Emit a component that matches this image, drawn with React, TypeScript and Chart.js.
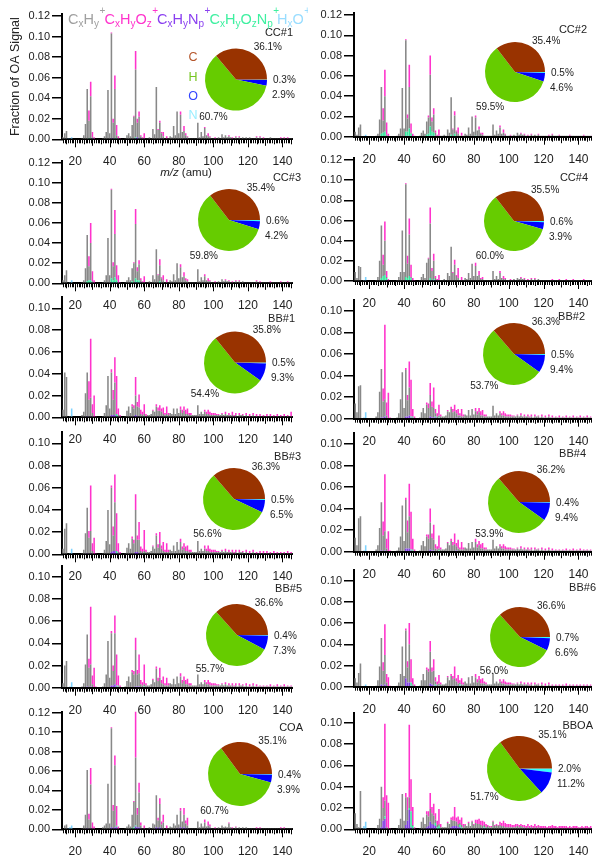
import React, { useEffect, useRef } from 'react';
import { Chart, registerables } from 'chart.js';
Chart.register(...registerables);

const FONT = 'Arial, "Liberation Sans", Helvetica, sans-serif';
const TEXT = '#222';
Chart.defaults.font.family = FONT;
Chart.defaults.color = TEXT;

// ---------- tick labels ----------
const X_TICKS = [20, 40, 60, 80, 100, 120, 140];
const Y_TICKS_12 = [0, 0.02, 0.04, 0.06, 0.08, 0.1, 0.12];
const Y_TICKS_10 = [0, 0.02, 0.04, 0.06, 0.08, 0.1];

// ---------- ion families (stack order bottom -> top) ----------
const FAMILY_KEYS = ['cxhynp', 'cxhyoznp', 'hxo', 'cxhy', 'cxhyoz'];
const FAMILY_COLORS = ['#8040e0', '#36e69c', '#80d4ff', '#888888', '#ff33cc'];

// elemental pie: values stored as [C, H, O, N] (%)
const PIE_ORDER = ['N', 'O', 'H', 'C'];
const PIE_COLORS = ['#33ffff', '#0000ff', '#66cc00', '#993300'];

// ---------- spectra (fraction of OA signal, in 1/1000) ----------
// dense rows: row k holds m/z 10+10k .. 19+10k
const CC1_CXHY = [
  [0, 0, 4, 2, 6, 8, 0, 0, 0, 0],
  [0, 0, 0, 0, 1, 4, 15, 49, 17, 41],
  [1, 0, 0, 0, 0, 0, 1, 3, 7, 48],
  [6, 102, 15, 48, 3, 1, 0, 0, 0, 1],
  [4, 6, 3, 14, 22, 66, 14, 21, 2, 1],
  [1, 1, 1, 2, 1, 10, 5, 51, 9, 16],
  [5, 3, 1, 1, 1, 3, 2, 13, 4, 27],
  [6, 24, 7, 8, 3, 2, 1, 1, 1, 1],
  [1, 16, 2, 7, 3, 11, 4, 3, 2, 1],
  [1, 1, 1, 2, 1, 5, 2, 4, 2, 3],
  [2, 1, 1, 2, 1, 2, 1, 2, 1, 2],
  [1, 2, 1, 1, 1, 2, 1, 2, 1, 1],
  [1, 1, 1, 2, 1, 1, 1, 1, 1, 1],
  [1, 1, 1, 1, 1, 1, 1, 1, 1, 1],
];
const CC1_CXHYOZ = [
  [0, 0, 0, 0, 0, 0, 0, 0, 0, 0],
  [0, 0, 0, 0, 0, 0, 0, 0, 10, 14],
  [5, 2, 0, 0, 0, 0, 0, 0, 0, 0],
  [0, 1, 4, 13, 10, 2, 1, 0, 0, 0],
  [0, 0, 0, 0, 1, 18, 4, 5, 1, 1],
  [5, 0, 0, 0, 0, 0, 0, 0, 1, 2],
  [1, 4, 0, 2, 0, 0, 0, 0, 0, 0],
  [0, 3, 0, 5, 2, 1, 0, 0, 0, 0],
  [0, 0, 0, 0, 0, 1, 0, 3, 1, 0],
  [0, 1, 0, 0, 0, 0, 0, 0, 0, 1],
  [0, 1, 0, 1, 0, 1, 0, 0, 0, 0],
  [0, 0, 0, 0, 0, 1, 0, 1, 0, 1],
  [0, 0, 0, 0, 0, 0, 0, 0, 0, 1],
  [0, 1, 0, 1, 0, 0, 0, 1, 0, 0],
];
const CC1_CXHYNP = { 30: 1, 41: 1, 42: 1, 55: 1, 56: 2, 58: 1, 70: 1, 84: 1 };
const CC1_CXHYOZNP = { 28: 1, 29: 1, 43: 1, 44: 1, 55: 1, 57: 1 };
const CC1_HXO = { 16: 1, 17: 1, 18: 2 };
const CC1_CHON = [36.1, 60.7, 2.9, 0.3];

const CC2_CXHY = [
  [0, 0, 5, 2, 9, 12, 0, 0, 0, 0],
  [0, 0, 0, 0, 1, 3, 17, 46, 12, 35],
  [1, 0, 0, 0, 0, 0, 1, 3, 8, 48],
  [8, 90, 13, 41, 1, 0, 0, 0, 0, 1],
  [4, 6, 3, 13, 16, 51, 10, 18, 3, 1],
  [1, 1, 1, 2, 1, 7, 4, 37, 7, 18],
  [5, 3, 1, 1, 1, 3, 2, 9, 3, 20],
  [5, 18, 6, 7, 3, 2, 1, 1, 1, 1],
  [1, 12, 2, 6, 3, 9, 3, 3, 2, 1],
  [1, 1, 1, 2, 1, 4, 2, 3, 2, 2],
  [1, 1, 1, 2, 1, 2, 1, 2, 1, 1],
  [1, 1, 1, 1, 1, 2, 1, 1, 1, 1],
  [1, 1, 1, 1, 1, 1, 1, 1, 1, 1],
  [1, 1, 1, 1, 1, 1, 1, 1, 1, 1],
];
const CC2_CXHYOZ = [
  [0, 0, 0, 0, 0, 0, 0, 0, 0, 0],
  [0, 0, 0, 0, 0, 0, 0, 0, 12, 26],
  [12, 3, 0, 0, 0, 0, 0, 0, 0, 0],
  [0, 1, 4, 22, 9, 3, 1, 0, 0, 0],
  [0, 0, 0, 0, 2, 19, 4, 6, 2, 1],
  [6, 0, 0, 0, 0, 0, 0, 0, 1, 4],
  [1, 6, 0, 3, 0, 0, 0, 0, 0, 0],
  [0, 2, 0, 3, 1, 2, 0, 0, 0, 0],
  [0, 0, 0, 0, 0, 2, 0, 3, 1, 0],
  [0, 1, 0, 0, 0, 0, 0, 1, 0, 1],
  [0, 1, 0, 1, 0, 0, 0, 1, 0, 0],
  [0, 0, 0, 1, 0, 1, 0, 0, 0, 1],
  [0, 0, 0, 0, 0, 1, 0, 0, 0, 0],
  [0, 0, 0, 1, 0, 0, 0, 0, 1, 0],
];
const CC2_CXHYNP = { 30: 1, 42: 1, 55: 1, 56: 1, 58: 1, 97: 1 };
const CC2_CXHYOZNP = { 27: 3, 28: 4, 29: 5, 41: 5, 42: 4, 43: 8, 44: 3, 53: 2, 54: 3, 55: 9, 56: 4, 57: 4, 67: 2, 69: 3, 81: 1 };
const CC2_HXO = { 17: 1, 18: 2 };
const CC2_CHON = [35.4, 59.5, 4.6, 0.5];

const CC3_CXHY = [
  [0, 0, 5, 3, 8, 13, 0, 0, 0, 0],
  [0, 0, 0, 0, 1, 3, 15, 46, 14, 37],
  [1, 0, 0, 0, 0, 0, 1, 3, 8, 45],
  [8, 88, 14, 43, 1, 0, 0, 0, 0, 1],
  [3, 6, 3, 13, 20, 54, 9, 16, 2, 1],
  [1, 1, 1, 2, 1, 8, 4, 34, 8, 16],
  [5, 3, 1, 1, 1, 3, 2, 9, 3, 20],
  [5, 16, 6, 7, 3, 2, 1, 1, 1, 1],
  [1, 14, 2, 6, 3, 7, 3, 2, 2, 1],
  [1, 1, 1, 2, 1, 4, 2, 3, 2, 2],
  [1, 1, 1, 2, 1, 2, 1, 2, 1, 1],
  [1, 1, 1, 1, 1, 2, 1, 1, 1, 1],
  [1, 1, 1, 1, 1, 1, 1, 1, 1, 1],
  [1, 1, 1, 1, 1, 1, 1, 1, 1, 1],
];
const CC3_CXHYOZ = [
  [0, 0, 0, 0, 0, 0, 0, 0, 0, 0],
  [0, 0, 0, 0, 0, 0, 0, 0, 10, 20],
  [10, 3, 0, 0, 0, 0, 0, 0, 0, 0],
  [0, 1, 4, 24, 14, 8, 1, 0, 0, 0],
  [0, 0, 0, 0, 1, 15, 4, 4, 2, 1],
  [6, 0, 0, 0, 0, 0, 0, 0, 1, 6],
  [1, 5, 0, 3, 0, 0, 0, 0, 0, 0],
  [0, 3, 0, 4, 2, 2, 0, 0, 0, 0],
  [0, 0, 0, 0, 0, 2, 0, 3, 1, 0],
  [0, 1, 0, 0, 0, 0, 0, 1, 0, 1],
  [0, 1, 0, 1, 0, 1, 0, 0, 0, 0],
  [0, 0, 0, 0, 0, 1, 0, 1, 0, 0],
  [0, 0, 0, 1, 0, 0, 0, 0, 0, 1],
  [0, 0, 0, 1, 0, 0, 0, 1, 0, 0],
];
const CC3_CXHYNP = { 30: 1, 41: 1, 43: 1, 55: 1, 56: 1, 58: 1 };
const CC3_CXHYOZNP = { 27: 2, 28: 3, 29: 3, 41: 4, 42: 3, 43: 5, 44: 3, 53: 2, 55: 4, 56: 2, 57: 3, 69: 2 };
const CC3_HXO = { 17: 1, 18: 3 };
const CC3_CHON = [35.4, 59.8, 4.2, 0.6];

const CC4_CXHY = [
  [0, 0, 9, 3, 15, 14, 0, 0, 0, 0],
  [0, 0, 0, 0, 1, 4, 20, 52, 11, 34],
  [1, 0, 0, 0, 0, 0, 1, 4, 9, 50],
  [9, 92, 14, 41, 1, 0, 0, 0, 0, 1],
  [4, 7, 3, 18, 22, 54, 9, 18, 2, 1],
  [1, 1, 1, 2, 1, 8, 5, 34, 8, 16],
  [5, 3, 1, 1, 1, 3, 2, 8, 3, 17],
  [5, 15, 5, 6, 2, 2, 1, 1, 1, 1],
  [1, 10, 2, 5, 2, 8, 3, 2, 2, 1],
  [1, 1, 1, 2, 1, 3, 2, 3, 2, 2],
  [1, 1, 1, 2, 1, 2, 1, 2, 1, 1],
  [1, 1, 1, 1, 1, 1, 1, 1, 1, 1],
  [1, 1, 1, 1, 1, 1, 1, 1, 1, 1],
  [1, 1, 1, 1, 1, 1, 1, 1, 1, 1],
];
const CC4_CXHYOZ = [
  [0, 0, 0, 0, 0, 0, 0, 0, 0, 0],
  [0, 0, 0, 0, 0, 0, 0, 0, 10, 19],
  [6, 2, 0, 0, 0, 0, 0, 0, 0, 0],
  [0, 1, 8, 16, 12, 3, 1, 0, 0, 0],
  [0, 0, 0, 0, 1, 16, 3, 7, 2, 1],
  [5, 0, 0, 0, 0, 0, 0, 0, 1, 5],
  [1, 10, 0, 3, 0, 0, 0, 0, 0, 0],
  [0, 3, 0, 4, 1, 2, 0, 0, 0, 0],
  [0, 0, 0, 0, 0, 2, 0, 3, 1, 0],
  [0, 1, 0, 0, 0, 0, 0, 1, 0, 1],
  [0, 1, 0, 1, 0, 1, 0, 0, 0, 0],
  [0, 0, 0, 0, 0, 1, 0, 0, 0, 1],
  [0, 0, 0, 1, 0, 0, 0, 1, 0, 0],
  [0, 0, 0, 1, 0, 0, 0, 0, 0, 0],
];
const CC4_CXHYNP = { 30: 1, 41: 1, 43: 1, 56: 1, 58: 1 };
const CC4_CXHYOZNP = { 27: 3, 28: 5, 29: 6, 30: 2, 41: 3, 42: 3, 43: 4, 44: 3, 55: 3, 57: 2 };
const CC4_HXO = { 17: 1, 18: 4 };
const CC4_CHON = [35.5, 60.0, 3.9, 0.6];

const BB1_CXHY = [
  [0, 0, 18, 7, 41, 37, 0, 0, 0, 0],
  [0, 0, 0, 0, 2, 5, 22, 40, 16, 17],
  [4, 0, 0, 0, 0, 0, 1, 4, 11, 38],
  [8, 39, 14, 30, 0, 1, 0, 0, 0, 1],
  [6, 10, 4, 10, 7, 18, 9, 8, 3, 2],
  [2, 1, 2, 2, 3, 6, 5, 10, 5, 6],
  [4, 3, 2, 2, 2, 4, 3, 8, 3, 8],
  [4, 7, 4, 6, 3, 3, 2, 2, 2, 2],
  [2, 11, 3, 5, 3, 5, 3, 3, 2, 2],
  [2, 2, 2, 2, 2, 3, 2, 3, 2, 2],
  [2, 2, 1, 2, 1, 2, 2, 2, 1, 2],
  [1, 1, 1, 2, 1, 1, 1, 1, 1, 1],
  [1, 1, 1, 1, 1, 1, 1, 1, 1, 1],
  [1, 1, 1, 1, 1, 1, 1, 1, 1, 1],
];
const BB1_CXHYOZ = [
  [0, 0, 0, 0, 0, 0, 0, 0, 0, 0],
  [0, 0, 0, 0, 0, 0, 0, 0, 17, 54],
  [8, 20, 1, 0, 0, 0, 0, 0, 0, 0],
  [0, 3, 9, 23, 35, 6, 2, 0, 0, 0],
  [0, 0, 0, 2, 3, 17, 4, 12, 4, 3],
  [9, 2, 0, 0, 0, 1, 0, 2, 3, 5],
  [3, 6, 2, 7, 2, 0, 0, 0, 0, 0],
  [0, 3, 3, 4, 4, 5, 2, 2, 0, 0],
  [0, 0, 0, 0, 0, 2, 2, 4, 3, 2],
  [2, 2, 1, 1, 0, 1, 0, 2, 0, 2],
  [0, 3, 1, 2, 0, 2, 0, 1, 0, 2],
  [0, 2, 0, 2, 0, 2, 0, 2, 0, 1],
  [0, 2, 0, 2, 0, 1, 0, 2, 0, 1],
  [0, 2, 0, 1, 0, 4, 0, 1, 0, 1],
];
const BB1_CXHYNP = { 27: 1, 29: 1, 41: 2, 42: 2, 43: 2, 44: 1, 54: 1, 55: 2, 56: 1, 57: 1, 68: 1, 70: 1 };
const BB1_CXHYOZNP = { 44: 2, 45: 1, 60: 1, 73: 1 };
const BB1_HXO = { 17: 1, 18: 8 };
const BB1_CHON = [35.8, 54.4, 9.3, 0.5];

const BB2_CXHY = [
  [0, 0, 14, 6, 30, 31, 0, 0, 0, 0],
  [0, 0, 0, 0, 2, 6, 25, 45, 15, 16],
  [3, 0, 0, 0, 0, 0, 1, 5, 18, 43],
  [10, 43, 15, 26, 0, 1, 0, 0, 0, 1],
  [6, 10, 5, 13, 10, 20, 10, 9, 3, 2],
  [2, 2, 2, 2, 3, 7, 6, 9, 6, 7],
  [4, 3, 2, 2, 2, 4, 3, 8, 3, 9],
  [4, 7, 4, 6, 3, 3, 2, 2, 2, 2],
  [2, 12, 3, 5, 3, 5, 3, 3, 2, 2],
  [2, 2, 2, 2, 2, 3, 2, 3, 2, 2],
  [2, 2, 1, 2, 1, 2, 2, 2, 1, 2],
  [1, 1, 1, 2, 1, 1, 1, 1, 1, 1],
  [1, 1, 1, 1, 1, 1, 1, 1, 1, 1],
  [1, 1, 1, 1, 1, 1, 1, 1, 1, 1],
];
const BB2_CXHYOZ = [
  [0, 0, 0, 0, 0, 0, 0, 0, 0, 0],
  [0, 0, 0, 0, 0, 0, 0, 0, 12, 69],
  [12, 24, 1, 0, 0, 0, 0, 0, 0, 0],
  [0, 2, 5, 24, 34, 7, 2, 0, 0, 0],
  [0, 0, 0, 2, 4, 11, 5, 19, 4, 3],
  [10, 2, 0, 0, 0, 1, 0, 2, 3, 6],
  [3, 6, 2, 7, 2, 0, 0, 0, 0, 0],
  [0, 3, 3, 4, 4, 5, 2, 2, 0, 0],
  [0, 0, 0, 0, 0, 2, 2, 4, 3, 2],
  [2, 2, 1, 1, 0, 1, 0, 2, 0, 2],
  [0, 2, 1, 2, 0, 2, 0, 1, 0, 2],
  [0, 2, 0, 2, 0, 2, 0, 1, 0, 2],
  [0, 1, 0, 2, 0, 1, 0, 2, 0, 1],
  [0, 2, 0, 1, 0, 2, 0, 1, 0, 2],
];
const BB2_CXHYNP = { 27: 1, 28: 1, 29: 2, 41: 2, 42: 2, 43: 3, 44: 1, 55: 2, 56: 1, 57: 1, 58: 1, 70: 1, 72: 1 };
const BB2_CXHYOZNP = { 44: 1, 45: 1, 58: 1, 60: 1 };
const BB2_HXO = { 17: 1, 18: 6 };
const BB2_CHON = [36.3, 53.7, 9.4, 0.5];

const BB3_CXHY = [
  [0, 0, 16, 5, 23, 28, 0, 0, 0, 0],
  [0, 0, 0, 0, 1, 4, 19, 41, 15, 20],
  [3, 0, 0, 0, 0, 0, 1, 4, 12, 40],
  [9, 58, 14, 44, 0, 1, 0, 0, 0, 1],
  [6, 10, 5, 14, 10, 38, 11, 12, 3, 2],
  [2, 2, 2, 2, 3, 7, 5, 17, 6, 10],
  [4, 3, 2, 2, 2, 4, 3, 8, 3, 11],
  [4, 11, 4, 6, 3, 3, 2, 2, 2, 2],
  [2, 12, 3, 5, 3, 5, 3, 3, 2, 2],
  [2, 2, 2, 2, 2, 3, 2, 3, 2, 2],
  [2, 2, 1, 2, 1, 2, 2, 2, 1, 2],
  [1, 1, 1, 2, 1, 1, 1, 1, 1, 1],
  [1, 1, 1, 1, 1, 1, 1, 1, 1, 1],
  [1, 1, 1, 1, 1, 1, 1, 1, 1, 1],
];
const BB3_CXHYOZ = [
  [0, 0, 0, 0, 0, 0, 0, 0, 0, 0],
  [0, 0, 0, 0, 0, 0, 0, 0, 6, 41],
  [7, 15, 1, 0, 0, 0, 0, 0, 0, 0],
  [0, 2, 8, 25, 34, 8, 2, 0, 0, 0],
  [0, 0, 0, 2, 3, 14, 4, 16, 4, 3],
  [19, 2, 0, 0, 0, 1, 0, 2, 3, 10],
  [3, 8, 2, 8, 2, 0, 0, 0, 0, 0],
  [0, 3, 3, 4, 4, 5, 2, 2, 0, 0],
  [0, 0, 0, 0, 0, 3, 2, 5, 3, 2],
  [2, 2, 1, 1, 0, 1, 0, 2, 0, 2],
  [0, 2, 1, 2, 0, 2, 0, 1, 0, 2],
  [0, 2, 0, 2, 0, 1, 0, 2, 0, 2],
  [0, 2, 0, 1, 0, 2, 0, 1, 0, 1],
  [0, 1, 0, 2, 0, 1, 0, 1, 0, 1],
];
const BB3_CXHYNP = { 27: 1, 29: 1, 41: 2, 42: 3, 43: 3, 44: 1, 55: 2, 56: 2, 57: 1, 70: 1 };
const BB3_CXHYOZNP = { 44: 2, 45: 1, 60: 1 };
const BB3_HXO = { 17: 1, 18: 5 };
const BB3_CHON = [36.3, 56.6, 6.5, 0.5];

const BB4_CXHY = [
  [0, 0, 13, 6, 31, 33, 0, 0, 0, 0],
  [0, 0, 0, 0, 2, 6, 22, 45, 15, 18],
  [3, 0, 0, 0, 0, 0, 1, 4, 14, 43],
  [10, 45, 15, 30, 0, 1, 0, 0, 0, 1],
  [6, 10, 5, 14, 12, 25, 12, 10, 3, 2],
  [2, 2, 2, 2, 3, 8, 6, 10, 6, 7],
  [4, 3, 2, 2, 2, 4, 3, 8, 3, 9],
  [4, 9, 4, 6, 3, 3, 2, 2, 2, 2],
  [2, 11, 3, 5, 3, 5, 3, 3, 2, 2],
  [2, 2, 2, 2, 2, 3, 2, 3, 2, 2],
  [2, 2, 1, 2, 1, 2, 2, 2, 1, 2],
  [1, 1, 1, 2, 1, 1, 1, 1, 1, 1],
  [1, 1, 1, 1, 1, 1, 1, 1, 1, 1],
  [1, 1, 1, 1, 1, 1, 1, 1, 1, 1],
];
const BB4_CXHYOZ = [
  [0, 0, 0, 0, 0, 0, 0, 0, 0, 0],
  [0, 0, 0, 0, 0, 0, 0, 0, 13, 53],
  [9, 19, 1, 0, 0, 0, 0, 0, 0, 0],
  [0, 2, 11, 30, 35, 10, 2, 0, 0, 0],
  [0, 0, 0, 2, 4, 13, 4, 14, 4, 3],
  [12, 2, 0, 0, 0, 1, 0, 2, 3, 10],
  [3, 8, 2, 7, 2, 0, 0, 0, 0, 0],
  [0, 3, 3, 4, 4, 5, 2, 2, 0, 0],
  [0, 0, 0, 0, 0, 2, 2, 4, 3, 2],
  [2, 2, 1, 1, 0, 1, 0, 2, 0, 2],
  [0, 2, 1, 2, 0, 2, 0, 1, 0, 2],
  [0, 2, 0, 2, 0, 2, 0, 1, 0, 1],
  [0, 1, 0, 2, 0, 1, 0, 2, 0, 1],
  [0, 2, 0, 1, 0, 1, 0, 1, 0, 2],
];
const BB4_CXHYNP = { 27: 1, 29: 1, 41: 3, 42: 3, 43: 3, 44: 1, 55: 2, 56: 1, 57: 1, 70: 1 };
const BB4_CXHYOZNP = { 44: 1, 45: 1, 60: 1 };
const BB4_HXO = { 17: 1, 18: 6 };
const BB4_CHON = [36.2, 53.9, 9.4, 0.4];

const BB5_CXHY = [
  [0, 0, 13, 4, 20, 24, 0, 0, 0, 0],
  [0, 0, 0, 0, 1, 4, 21, 47, 18, 20],
  [3, 0, 0, 0, 0, 0, 1, 4, 12, 42],
  [9, 47, 13, 46, 0, 1, 0, 0, 0, 1],
  [6, 10, 5, 14, 12, 33, 11, 12, 3, 2],
  [2, 2, 2, 2, 3, 7, 5, 17, 6, 9],
  [4, 3, 2, 2, 2, 4, 3, 8, 3, 10],
  [4, 10, 4, 6, 3, 3, 2, 2, 2, 2],
  [2, 12, 3, 5, 3, 5, 3, 3, 2, 2],
  [2, 2, 2, 2, 2, 3, 2, 3, 2, 2],
  [2, 2, 1, 2, 1, 2, 2, 2, 1, 2],
  [1, 1, 1, 2, 1, 1, 1, 1, 1, 1],
  [1, 1, 1, 1, 1, 1, 1, 1, 1, 1],
  [1, 1, 1, 1, 1, 1, 1, 1, 1, 1],
];
const BB5_CXHYOZ = [
  [0, 0, 0, 0, 0, 0, 0, 0, 0, 0],
  [0, 0, 0, 0, 0, 0, 0, 0, 8, 52],
  [8, 18, 1, 0, 0, 0, 0, 0, 0, 0],
  [0, 2, 5, 16, 28, 9, 2, 0, 0, 0],
  [0, 0, 0, 2, 3, 11, 4, 17, 4, 3],
  [18, 2, 0, 0, 0, 1, 0, 2, 3, 9],
  [3, 7, 2, 7, 2, 0, 0, 0, 0, 0],
  [0, 3, 3, 4, 4, 5, 2, 2, 0, 0],
  [0, 0, 0, 0, 0, 2, 2, 4, 3, 2],
  [2, 2, 1, 1, 0, 1, 0, 2, 0, 2],
  [0, 2, 1, 2, 0, 2, 0, 1, 0, 2],
  [0, 2, 0, 2, 0, 2, 0, 1, 0, 1],
  [0, 1, 0, 2, 0, 1, 0, 2, 0, 1],
  [0, 2, 0, 1, 0, 1, 0, 1, 0, 1],
];
const BB5_CXHYNP = { 27: 1, 29: 1, 41: 2, 42: 2, 43: 3, 44: 1, 55: 1, 56: 1, 57: 1 };
const BB5_CXHYOZNP = { 44: 1, 45: 1, 60: 1 };
const BB5_HXO = { 17: 1, 18: 5 };
const BB5_CHON = [36.6, 55.7, 7.3, 0.4];

const BB6_CXHY = [
  [0, 0, 8, 4, 13, 22, 0, 0, 0, 0],
  [0, 0, 0, 0, 1, 6, 19, 44, 14, 28],
  [4, 0, 0, 0, 0, 0, 1, 4, 12, 38],
  [10, 45, 14, 36, 0, 1, 0, 0, 0, 1],
  [6, 12, 6, 16, 14, 30, 12, 14, 3, 2],
  [2, 2, 2, 2, 3, 9, 6, 10, 6, 8],
  [4, 3, 2, 2, 2, 5, 3, 9, 3, 10],
  [4, 9, 4, 6, 3, 3, 2, 2, 2, 2],
  [2, 13, 3, 5, 3, 5, 3, 3, 2, 2],
  [2, 2, 2, 2, 2, 3, 2, 3, 2, 2],
  [2, 2, 1, 2, 1, 2, 2, 2, 1, 2],
  [1, 1, 1, 2, 1, 1, 1, 1, 1, 1],
  [1, 1, 1, 1, 1, 1, 1, 1, 1, 1],
  [1, 1, 1, 1, 1, 1, 1, 1, 1, 1],
];
const BB6_CXHYOZ = [
  [0, 0, 0, 0, 0, 0, 0, 0, 0, 0],
  [0, 0, 0, 0, 0, 0, 0, 0, 8, 29],
  [8, 9, 1, 0, 0, 0, 0, 0, 0, 0],
  [0, 2, 6, 20, 22, 6, 2, 0, 0, 0],
  [0, 0, 0, 2, 3, 10, 4, 11, 4, 3],
  [8, 2, 0, 0, 0, 1, 0, 2, 3, 11],
  [3, 8, 2, 6, 2, 0, 0, 0, 0, 0],
  [0, 3, 3, 4, 4, 5, 2, 2, 0, 0],
  [0, 0, 0, 0, 0, 2, 2, 4, 3, 2],
  [2, 2, 1, 1, 0, 1, 0, 2, 0, 2],
  [0, 2, 1, 2, 0, 2, 0, 1, 0, 2],
  [0, 2, 0, 2, 0, 1, 0, 1, 0, 1],
  [0, 1, 0, 2, 0, 1, 0, 1, 0, 1],
  [0, 1, 0, 1, 0, 1, 0, 1, 0, 1],
];
const BB6_CXHYNP = { 27: 2, 28: 1, 29: 2, 41: 8, 42: 4, 43: 4, 44: 1, 55: 3, 56: 2, 57: 1, 58: 1, 68: 1, 70: 1, 72: 1 };
const BB6_CXHYOZNP = { 44: 3, 45: 1, 58: 1, 60: 1, 72: 1, 86: 1 };
const BB6_HXO = { 17: 1, 18: 2 };
const BB6_CHON = [36.6, 56.0, 6.6, 0.7];

const COA_CXHY = [
  [0, 0, 2, 0, 4, 5, 0, 0, 0, 0],
  [0, 0, 0, 0, 1, 4, 15, 60, 10, 45],
  [1, 0, 0, 0, 0, 0, 2, 4, 6, 47],
  [6, 102, 18, 64, 1, 0, 0, 0, 0, 1],
  [3, 5, 3, 14, 26, 70, 13, 36, 3, 1],
  [1, 1, 1, 2, 1, 6, 5, 33, 8, 24],
  [4, 7, 1, 1, 1, 3, 2, 6, 4, 14],
  [5, 17, 8, 13, 5, 3, 1, 1, 1, 1],
  [1, 8, 2, 6, 3, 7, 3, 3, 2, 1],
  [1, 1, 1, 2, 1, 4, 2, 3, 2, 6],
  [2, 1, 1, 2, 1, 2, 1, 2, 1, 2],
  [1, 1, 1, 1, 1, 1, 1, 1, 1, 1],
  [1, 1, 1, 1, 1, 1, 1, 1, 1, 1],
  [1, 1, 1, 1, 1, 1, 1, 1, 1, 1],
];
const COA_CXHYOZ = [
  [0, 0, 0, 0, 0, 0, 0, 0, 0, 0],
  [0, 0, 0, 0, 0, 0, 0, 0, 6, 17],
  [6, 3, 0, 0, 0, 0, 0, 0, 0, 0],
  [0, 1, 6, 10, 20, 3, 0, 0, 0, 0],
  [0, 0, 0, 0, 1, 50, 7, 10, 3, 0],
  [3, 0, 0, 0, 0, 0, 0, 0, 3, 6],
  [3, 8, 0, 3, 0, 0, 0, 0, 0, 0],
  [0, 3, 0, 7, 3, 8, 0, 0, 0, 0],
  [0, 0, 0, 0, 0, 3, 0, 4, 2, 0],
  [0, 1, 0, 0, 0, 0, 0, 0, 0, 1],
  [0, 1, 0, 1, 0, 0, 0, 0, 0, 0],
  [0, 0, 0, 0, 0, 1, 0, 1, 0, 0],
  [0, 0, 0, 0, 0, 0, 0, 0, 0, 1],
  [0, 1, 0, 0, 0, 0, 0, 0, 0, 0],
];
const COA_CXHYNP = { 27: 1, 29: 1, 41: 2, 42: 1, 43: 2, 44: 2, 55: 3, 56: 2, 57: 2, 58: 1, 67: 2, 68: 1, 69: 2, 70: 1, 79: 1, 81: 2, 83: 2, 84: 1, 85: 1, 97: 1, 98: 1 };
const COA_CXHYOZNP = { 44: 1, 53: 1, 54: 2, 55: 1 };
const COA_HXO = { 16: 1, 17: 2, 18: 4 };
const COA_CHON = [35.1, 60.7, 3.9, 0.4];

const BBOA_CXHY = [
  [0, 0, 15, 5, 2, 36, 0, 0, 0, 0],
  [0, 0, 0, 0, 1, 4, 10, 38, 12, 15],
  [2, 0, 0, 0, 0, 0, 1, 4, 10, 33],
  [8, 26, 10, 10, 0, 1, 0, 0, 0, 1],
  [7, 11, 5, 12, 9, 12, 10, 9, 3, 2],
  [2, 2, 2, 2, 2, 6, 5, 7, 5, 5],
  [4, 3, 2, 2, 2, 4, 3, 6, 3, 7],
  [4, 6, 4, 5, 3, 3, 2, 2, 2, 2],
  [2, 7, 3, 4, 3, 4, 3, 3, 2, 2],
  [2, 2, 2, 2, 2, 3, 2, 3, 2, 2],
  [1, 2, 1, 2, 1, 2, 1, 2, 1, 1],
  [1, 1, 1, 1, 1, 1, 1, 1, 1, 1],
  [1, 1, 1, 1, 1, 1, 1, 1, 1, 1],
  [1, 1, 1, 1, 1, 1, 1, 1, 1, 1],
];
const BBOA_CXHYOZ = [
  [0, 0, 0, 0, 0, 0, 0, 0, 0, 0],
  [0, 0, 0, 0, 0, 0, 0, 0, 10, 72],
  [30, 25, 1, 0, 0, 0, 0, 0, 0, 0],
  [0, 4, 12, 68, 30, 17, 2, 0, 0, 0],
  [0, 0, 0, 3, 5, 15, 6, 11, 6, 4],
  [14, 3, 0, 0, 0, 1, 0, 2, 4, 13],
  [4, 7, 3, 7, 3, 1, 0, 1, 0, 1],
  [1, 3, 4, 5, 4, 5, 3, 3, 1, 1],
  [1, 1, 1, 1, 1, 3, 3, 5, 4, 3],
  [3, 3, 2, 2, 3, 2, 2, 2, 2, 2],
  [2, 3, 2, 2, 2, 3, 2, 2, 2, 2],
  [2, 2, 1, 2, 2, 3, 2, 2, 1, 2],
  [2, 2, 2, 2, 1, 2, 1, 2, 2, 2],
  [1, 1, 2, 1, 2, 2, 1, 2, 2, 2],
];
const BBOA_CXHYNP = { 27: 2, 28: 8, 29: 10, 41: 4, 42: 8, 43: 18, 44: 2, 53: 2, 54: 3, 55: 7, 56: 5, 57: 4, 58: 3, 67: 2, 68: 3, 69: 3, 70: 3, 71: 2, 72: 2, 82: 1, 84: 1, 86: 1 };
const BBOA_CXHYOZNP = { 29: 2, 43: 2, 44: 15, 45: 3, 58: 3, 59: 2, 60: 3, 72: 2, 73: 2, 86: 1, 88: 1 };
const BBOA_HXO = { 16: 1, 17: 3, 18: 7 };
const BBOA_CHON = [35.1, 51.7, 11.2, 2.0];

const PANELS: any[] = [
  { name: 'CC#1', cxhy: CC1_CXHY, cxhyoz: CC1_CXHYOZ, cxhynp: CC1_CXHYNP, cxhyoznp: CC1_CXHYOZNP, hxo: CC1_HXO, chon: CC1_CHON, yTicks: Y_TICKS_12 },
  { name: 'CC#2', cxhy: CC2_CXHY, cxhyoz: CC2_CXHYOZ, cxhynp: CC2_CXHYNP, cxhyoznp: CC2_CXHYOZNP, hxo: CC2_HXO, chon: CC2_CHON, yTicks: Y_TICKS_12 },
  { name: 'CC#3', cxhy: CC3_CXHY, cxhyoz: CC3_CXHYOZ, cxhynp: CC3_CXHYNP, cxhyoznp: CC3_CXHYOZNP, hxo: CC3_HXO, chon: CC3_CHON, yTicks: Y_TICKS_12 },
  { name: 'CC#4', cxhy: CC4_CXHY, cxhyoz: CC4_CXHYOZ, cxhynp: CC4_CXHYNP, cxhyoznp: CC4_CXHYOZNP, hxo: CC4_HXO, chon: CC4_CHON, yTicks: Y_TICKS_12 },
  { name: 'BB#1', cxhy: BB1_CXHY, cxhyoz: BB1_CXHYOZ, cxhynp: BB1_CXHYNP, cxhyoznp: BB1_CXHYOZNP, hxo: BB1_HXO, chon: BB1_CHON, yTicks: Y_TICKS_10 },
  { name: 'BB#2', cxhy: BB2_CXHY, cxhyoz: BB2_CXHYOZ, cxhynp: BB2_CXHYNP, cxhyoznp: BB2_CXHYOZNP, hxo: BB2_HXO, chon: BB2_CHON, yTicks: Y_TICKS_10 },
  { name: 'BB#3', cxhy: BB3_CXHY, cxhyoz: BB3_CXHYOZ, cxhynp: BB3_CXHYNP, cxhyoznp: BB3_CXHYOZNP, hxo: BB3_HXO, chon: BB3_CHON, yTicks: Y_TICKS_10 },
  { name: 'BB#4', cxhy: BB4_CXHY, cxhyoz: BB4_CXHYOZ, cxhynp: BB4_CXHYNP, cxhyoznp: BB4_CXHYOZNP, hxo: BB4_HXO, chon: BB4_CHON, yTicks: Y_TICKS_10 },
  { name: 'BB#5', cxhy: BB5_CXHY, cxhyoz: BB5_CXHYOZ, cxhynp: BB5_CXHYNP, cxhyoznp: BB5_CXHYOZNP, hxo: BB5_HXO, chon: BB5_CHON, yTicks: Y_TICKS_10 },
  { name: 'BB#6', cxhy: BB6_CXHY, cxhyoz: BB6_CXHYOZ, cxhynp: BB6_CXHYNP, cxhyoznp: BB6_CXHYOZNP, hxo: BB6_HXO, chon: BB6_CHON, yTicks: Y_TICKS_10 },
  { name: 'COA', cxhy: COA_CXHY, cxhyoz: COA_CXHYOZ, cxhynp: COA_CXHYNP, cxhyoznp: COA_CXHYOZNP, hxo: COA_HXO, chon: COA_CHON, yTicks: Y_TICKS_12 },
  { name: 'BBOA', cxhy: BBOA_CXHY, cxhyoz: BBOA_CXHYOZ, cxhynp: BBOA_CXHYNP, cxhyoznp: BBOA_CXHYOZNP, hxo: BBOA_HXO, chon: BBOA_CHON, yTicks: Y_TICKS_10 },
];

// ---------- layout (pixels) ----------
const COLS = [
  { left: 0, width: 308, axisX: 62, xmin: 12.4, xmax: 145.7 },
  { left: 300, width: 304, axisX: 354, xmin: 11.3, xmax: 147.5 },
];
const LAYOUT = [
  { col: 0, y0: 139.3, yRef: 16, ref: 0.12, ymax: 0.122, pie: [236, 79.5, 31], tag: [293, 33] },
  { col: 1, y0: 136.7, yRef: 15, ref: 0.12, ymax: 0.122, pie: [515, 72, 30], tag: [587, 30] },
  { col: 0, y0: 283.3, yRef: 162.7, ref: 0.12, ymax: 0.122, pie: [229, 220, 31], tag: [301, 178] },
  { col: 1, y0: 281, yRef: 160, ref: 0.12, ymax: 0.122, pie: [514, 221, 30], tag: [588, 178] },
  { col: 0, y0: 417.3, yRef: 308.3, ref: 0.1, ymax: 0.11, pie: [235, 362.5, 31], tag: [295, 319] },
  { col: 1, y0: 418.7, yRef: 310.7, ref: 0.1, ymax: 0.11, pie: [514, 354, 31], tag: [585, 317] },
  { col: 0, y0: 554.3, yRef: 443.3, ref: 0.1, ymax: 0.11, pie: [234, 499, 31], tag: [301, 457] },
  { col: 1, y0: 551.7, yRef: 444, ref: 0.1, ymax: 0.11, pie: [519, 502, 31], tag: [586, 454] },
  { col: 0, y0: 687.7, yRef: 576.7, ref: 0.1, ymax: 0.11, pie: [237, 635, 31], tag: [302, 589] },
  { col: 1, y0: 686.7, yRef: 580.7, ref: 0.1, ymax: 0.11, pie: [520, 637, 30], tag: [596, 588] },
  { col: 0, y0: 829.3, yRef: 712.7, ref: 0.12, ymax: 0.121, pie: [240, 774, 32], tag: [303, 728] },
  { col: 1, y0: 829.3, yRef: 722.7, ref: 0.1, ymax: 0.109, pie: [519.5, 768.5, 32.5], tag: [593, 726] },
];

// legend of CC#1 (rich text: n normal, b subscript, p superscript)
const LEGEND_ITEMS: any[] = [
  { color: '#a0a0a0', x: 68, parts: [['C', 'n'], ['x', 'b'], ['H', 'n'], ['y', 'b'], ['+', 'p']] },
  { color: '#ff33cc', x: 104.5, parts: [['C', 'n'], ['x', 'b'], ['H', 'n'], ['y', 'b'], ['O', 'n'], ['z', 'b'], ['+', 'p']] },
  { color: '#8a3ff0', x: 157, parts: [['C', 'n'], ['x', 'b'], ['H', 'n'], ['y', 'b'], ['N', 'n'], ['p', 'b'], ['+', 'p']] },
  { color: '#3ef0a0', x: 209.5, parts: [['C', 'n'], ['x', 'b'], ['H', 'n'], ['y', 'b'], ['O', 'n'], ['z', 'b'], ['N', 'n'], ['p', 'b'], ['+', 'p']] },
  { color: '#99ddff', x: 277, parts: [['H', 'n'], ['x', 'b'], ['O', 'n'], ['+', 'p']] },
];
const CHON_LETTERS: any[] = [
  ['C', '#b5562b', 58], ['H', '#77c522', 77.5], ['O', '#3344ff', 97], ['N', '#99eeff', 116],
];

function densePoints(rows: number[][]) {
  const pts: any[] = [];
  rows.forEach((row, k) => row.forEach((v, j) => { if (v > 0) pts.push({ x: 10 + 10 * k + j, y: v / 1000 }); }));
  return pts;
}
function sparsePoints(obj: Record<string, number>) {
  return Object.keys(obj).map((k) => ({ x: Number(k), y: obj[k] / 1000 }));
}
function toPoints(d: any) { return Array.isArray(d) ? densePoints(d) : sparsePoints(d); }

function barGeom(i: number) {
  const L = LAYOUT[i]; const C = COLS[L.col];
  const ppu = (L.y0 - L.yRef) / L.ref;
  const ct = L.y0 - L.ymax * ppu;
  const top = Math.floor(ct - 14);
  const height = Math.ceil(L.y0 - top + 44);
  return { left: C.left, top, width: C.width, height, padTop: ct - top, xh: height - (L.y0 - top), yw: C.axisX - C.left };
}
function pieGeom(i: number) {
  const [cx, cy, r] = LAYOUT[i].pie;
  const left = Math.floor(cx - r - 60), top = Math.floor(cy - r - 45);
  const width = Math.ceil(2 * r + 120), height = Math.ceil(2 * r + 90);
  const pl = cx - r - left, pt = cy - r - top;
  return { left, top, width, height, pad: { left: pl, top: pt, right: width - pl - 2 * r, bottom: height - pt - 2 * r } };
}

function drawRich(ctx: any, x: number, y: number, parts: any[], color: string) {
  ctx.fillStyle = color; ctx.textAlign = 'left'; ctx.textBaseline = 'alphabetic';
  for (const [t, kind] of parts) {
    if (kind === 'n') { ctx.font = `14.5px ${FONT}`; ctx.fillText(t, x, y); }
    else if (kind === 'b') { ctx.font = `10px ${FONT}`; ctx.fillText(t, x, y + 2.5); }
    else { ctx.font = `10px ${FONT}`; ctx.fillText(t, x + 0.5, y - 10.5); }
    x += ctx.measureText(t).width;
  }
}

function decorPlugin(i: number, g: any) {
  return {
    id: 'decor' + i,
    afterDraw(chart: any) {
      const { ctx, chartArea, scales } = chart;
      const xs = scales.x;
      ctx.save();
      // x-axis tick marks (every m/z, longer at decades)
      ctx.strokeStyle = '#000'; ctx.lineWidth = 1;
      for (let v = Math.ceil(xs.min); v <= Math.floor(xs.max); v++) {
        const px = Math.round(xs.getPixelForValue(v)) + 0.5;
        const len = v % 20 === 0 ? 8 : v % 10 === 0 ? 6.5 : v % 5 === 0 ? 5 : 4;
        ctx.beginPath(); ctx.moveTo(px, chartArea.bottom); ctx.lineTo(px, chartArea.bottom + len); ctx.stroke();
      }
      ctx.translate(-g.left, -g.top);
      const L = LAYOUT[i];
      ctx.fillStyle = TEXT; ctx.font = `11px ${FONT}`; ctx.textAlign = 'right'; ctx.textBaseline = 'middle';
      ctx.fillText(PANELS[i].name, L.tag[0], L.tag[1]);
      if (i === 0) {
        LEGEND_ITEMS.forEach((it) => drawRich(ctx, it.x, 24, it.parts, it.color));
        ctx.font = `12.5px ${FONT}`; ctx.textAlign = 'center'; ctx.textBaseline = 'middle';
        CHON_LETTERS.forEach(([t, c, y]) => { ctx.fillStyle = c; ctx.fillText(t, 193, y); });
        // m/z (amu)
        ctx.fillStyle = TEXT; ctx.textBaseline = 'middle'; ctx.textAlign = 'left';
        ctx.font = `italic 11.5px ${FONT}`; const w1 = ctx.measureText('m/z').width;
        ctx.font = `11.5px ${FONT}`; const w2 = ctx.measureText(' (amu)').width;
        const x0 = 186 - (w1 + w2) / 2;
        ctx.font = `italic 11.5px ${FONT}`; ctx.fillText('m/z', x0, 172.5);
        ctx.font = `11.5px ${FONT}`; ctx.fillText(' (amu)', x0 + w1, 172.5);
      }
      ctx.restore();
    },
  };
}

function pieLabelPlugin(i: number) {
  return {
    id: 'pieLabels' + i,
    afterDraw(chart: any) {
      const ctx = chart.ctx;
      const arcs = chart.getDatasetMeta(0).data;
      const vals = chart.data.datasets[0].data;
      ctx.save();
      ctx.font = `10px ${FONT}`; ctx.fillStyle = TEXT; ctx.textBaseline = 'middle';
      arcs.forEach((arc: any, k: number) => {
        const { x, y, startAngle, endAngle, outerRadius } = arc.getProps(['x', 'y', 'startAngle', 'endAngle', 'outerRadius'], true);
        const r = outerRadius; const key = PIE_ORDER[k];
        const txt = Number(vals[k]).toFixed(1) + '%';
        let px = 0, py = 0, align = 'left';
        if (key === 'C') { const d = r + 14; px = x + d * Math.SQRT1_2; py = y - d * Math.SQRT1_2; align = 'center'; }
        else if (key === 'H') { const m = (startAngle + endAngle) / 2; const d = r + 13; px = x + d * Math.cos(m); py = y + d * Math.sin(m); align = 'center'; }
        else if (key === 'N') { px = x + r + 6; py = y + 1; }
        else { px = x + r + 5; py = y + 16; }
        ctx.textAlign = align; ctx.fillText(txt, px, py);
      });
      ctx.restore();
    },
  };
}

function makeBar(canvas: HTMLCanvasElement, i: number) {
  const P = PANELS[i]; const L = LAYOUT[i]; const C = COLS[L.col]; const g = barGeom(i);
  const datasets = FAMILY_KEYS.map((k, j) => ({
    label: k,
    data: toPoints(P[k]),
    backgroundColor: FAMILY_COLORS[j],
    borderWidth: 0,
    barPercentage: 0.9,
    categoryPercentage: 1,
  }));
  return new Chart(canvas, {
    type: 'bar',
    data: { datasets },
    options: {
      animation: false,
      responsive: false,
      maintainAspectRatio: false,
      layout: { padding: { top: g.padTop, left: 0, right: 0, bottom: 0 } },
      plugins: { legend: { display: false }, tooltip: { enabled: false } },
      scales: {
        x: {
          type: 'linear', stacked: true, min: C.xmin, max: C.xmax, offset: false, bounds: 'data',
          grid: { display: false, drawTicks: false, offset: false },
          border: { display: true, color: '#000', width: 2 },
          afterBuildTicks: (s: any) => { s.ticks = X_TICKS.map((v) => ({ value: v })); },
          afterFit: (s: any) => { s.height = g.xh; },
          ticks: { autoSkip: false, maxRotation: 0, minRotation: 0, padding: 15.5, font: { size: 12 }, color: TEXT, callback: (v: any) => String(v) },
        },
        y: {
          type: 'linear', stacked: true, min: 0, max: L.ymax, bounds: 'data',
          grid: { display: true, drawOnChartArea: false, drawTicks: true, tickLength: 10, color: '#000', lineWidth: 1.5 },
          border: { display: true, color: '#000', width: 2 },
          afterBuildTicks: (s: any) => { s.ticks = P.yTicks.map((v: number) => ({ value: v })); },
          afterFit: (s: any) => { s.width = g.yw; },
          title: i === 0
            ? { display: true, text: 'Fraction of OA Signal', font: { size: 12.5 }, color: TEXT, padding: { top: 8, bottom: 0 } }
            : { display: false },
          ticks: { autoSkip: false, padding: 2, font: { size: 11 }, color: TEXT, callback: (v: any) => Number(v).toFixed(2) },
        },
      },
    } as any,
    plugins: [decorPlugin(i, g)],
  } as any);
}

function makePie(canvas: HTMLCanvasElement, i: number) {
  const P = PANELS[i]; const g = pieGeom(i);
  const [c, h, o, n] = P.chon;
  return new Chart(canvas, {
    type: 'pie',
    data: {
      labels: PIE_ORDER,
      datasets: [{ data: [n, o, h, c], backgroundColor: PIE_COLORS, borderWidth: 0 }],
    },
    options: {
      animation: false,
      responsive: false,
      maintainAspectRatio: false,
      rotation: 90,
      layout: { padding: g.pad },
      plugins: { legend: { display: false }, tooltip: { enabled: false } },
    } as any,
    plugins: [pieLabelPlugin(i)],
  } as any);
}

export default function App() {
  const barRefs = useRef<(HTMLCanvasElement | null)[]>([]);
  const pieRefs = useRef<(HTMLCanvasElement | null)[]>([]);
  useEffect(() => {
    const charts: any[] = [];
    PANELS.forEach((_p, i) => {
      const bc = barRefs.current[i]; if (bc) charts.push(makeBar(bc, i));
      const pc = pieRefs.current[i]; if (pc) charts.push(makePie(pc, i));
    });
    return () => charts.forEach((ch) => ch.destroy());
  }, []);
  return (
    <div style={{ position: 'absolute', left: 0, top: 0, width: 604, height: 857, overflow: 'hidden', background: '#fff' }}>
      {PANELS.map((_p, i) => {
        const g = barGeom(i);
        return (
          <canvas key={'b' + i} ref={(el) => { barRefs.current[i] = el; }} width={g.width} height={g.height}
            style={{ position: 'absolute', left: g.left, top: g.top, width: g.width, height: g.height }} />
        );
      })}
      {PANELS.map((_p, i) => {
        const g = pieGeom(i);
        return (
          <canvas key={'p' + i} ref={(el) => { pieRefs.current[i] = el; }} width={g.width} height={g.height}
            style={{ position: 'absolute', left: g.left, top: g.top, width: g.width, height: g.height }} />
        );
      })}
    </div>
  );
}
